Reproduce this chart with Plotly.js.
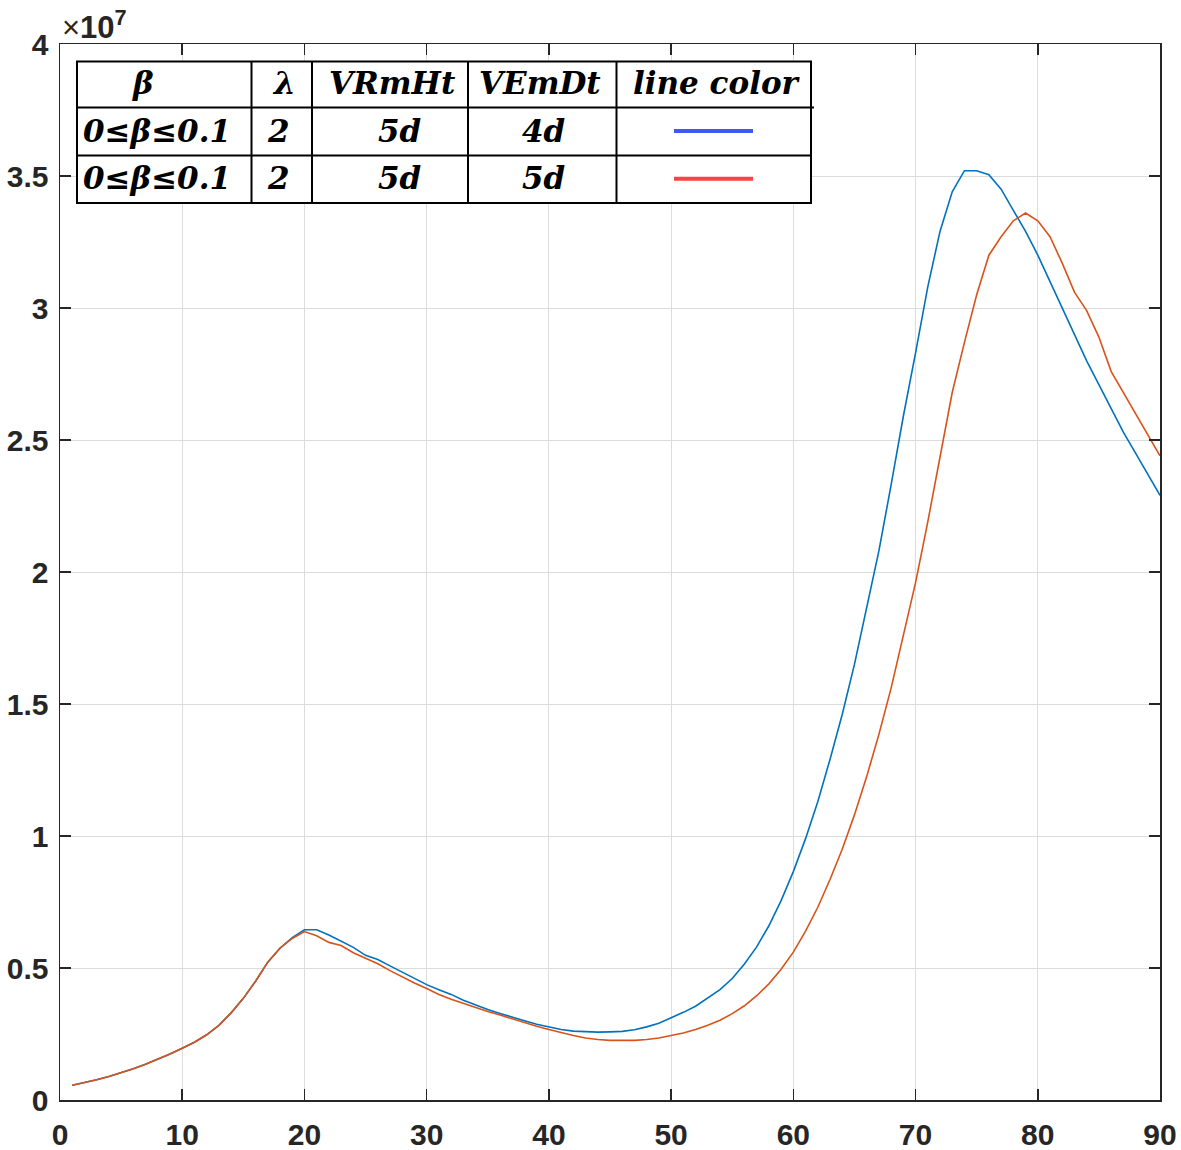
<!DOCTYPE html>
<html>
<head>
<meta charset="utf-8">
<script src="https://cdn.plot.ly/plotly-3.0.1.min.js"></script>
<style>html,body{margin:0;padding:0;background:#fff;}#chart{width:1181px;height:1150px;}</style>
</head>
<body>
<div id="chart"></div>
<script>
// ---- data (values in units of 1e7) ----
const xValues = [1,2,3,4,5,6,7,8,9,10,11,12,13,14,15,16,17,18,19,20,21,22,23,24,25,26,27,28,29,30,31,32,33,34,35,36,37,38,39,40,41,42,43,44,45,46,47,48,49,50,51,52,53,54,55,56,57,58,59,60,61,62,63,64,65,66,67,68,69,70,71,72,73,74,75,76,77,78,79,80,81,82,83,84,85,86,87,88,89,90];
const blueSeries = [0.056,0.066,0.077,0.089,0.103,0.118,0.135,0.154,0.174,0.196,
  0.219,0.247,0.283,0.330,0.385,0.450,0.522,0.575,0.615,0.645,
  0.645,0.625,0.600,0.578,0.548,0.532,0.508,0.485,0.460,0.437,
  0.418,0.400,0.378,0.360,0.343,0.328,0.313,0.300,0.287,0.277,
  0.267,0.261,0.258,0.257,0.258,0.260,0.266,0.277,0.291,0.311,
  0.332,0.355,0.385,0.418,0.460,0.515,0.580,0.660,0.755,0.865,
  0.990,1.130,1.290,1.460,1.650,1.860,2.080,2.330,2.590,2.830,
  3.080,3.290,3.440,3.520,3.520,3.505,3.450,3.370,3.290,3.200,
  3.100,3.000,2.900,2.800,2.710,2.620,2.530,2.450,2.370,2.290];
const redSeries = [0.056,0.066,0.077,0.089,0.103,0.118,0.135,0.154,0.174,0.196,
  0.219,0.247,0.283,0.330,0.385,0.450,0.522,0.575,0.612,0.638,
  0.622,0.597,0.585,0.558,0.537,0.516,0.490,0.465,0.443,0.422,
  0.400,0.382,0.366,0.350,0.335,0.322,0.307,0.294,0.279,0.267,
  0.255,0.244,0.235,0.229,0.226,0.225,0.226,0.229,0.235,0.244,
  0.254,0.267,0.283,0.302,0.327,0.357,0.395,0.440,0.495,0.560,
  0.640,0.730,0.835,0.950,1.080,1.225,1.385,1.560,1.755,1.960,
  2.190,2.440,2.680,2.870,3.050,3.200,3.270,3.330,3.360,3.330,
  3.270,3.170,3.060,2.990,2.890,2.760,2.680,2.600,2.520,2.440];
const exponentLabel = '×<b>10<sup>7</sup></b>';
const tableHeader = ['β','λ','VRmHt','VEmDt','line color'];
const tableRows = [['0≤β≤0.1','2','5d','4d'],['0≤β≤0.1','2','5d','5d']];
const legendLineColors = ['#3b5cf0','#ff4242'];

// ---- layout helpers (pixel -> paper) ----
const L = 60, T = 44, W = 1100, H = 1056;
const px = p => (p - L) / W;
const py = p => (T + H - p) / H;

const axisColor = '#262626';
const tickFont = {family: 'Liberation Sans, Arial, sans-serif', size: 30, color: axisColor, weight: 'bold'};

const traces = [
  {x: xValues, y: blueSeries, type: 'scatter', mode: 'lines', line: {color: '#0072BD', width: 1.6}, hoverinfo: 'skip'},
  {x: xValues, y: redSeries, type: 'scatter', mode: 'lines', line: {color: '#D95319', width: 1.6}, hoverinfo: 'skip'}
];

// table geometry (pixels)
const colEdges = [77, 251.5, 312, 468, 616.5, 811];
const rowEdges = [61.5, 107.5, 155.5, 203];
const headerCenters = [143, 284, 392, 540, 717];
const rowCenters = [157, 278, 399, 543];
const shapes = [];
shapes.push({type: 'rect', xref: 'paper', yref: 'paper', x0: px(colEdges[0]), x1: px(colEdges[5]), y0: py(rowEdges[0]), y1: py(rowEdges[3]),
  line: {color: '#000', width: 2}, fillcolor: '#fff', layer: 'above'});
for (let i = 1; i < colEdges.length - 1; i++) {
  shapes.push({type: 'line', xref: 'paper', yref: 'paper', x0: px(colEdges[i]), x1: px(colEdges[i]), y0: py(rowEdges[0]), y1: py(rowEdges[3]), line: {color: '#000', width: 2}, layer: 'above'});
}
for (let j = 1; j < rowEdges.length - 1; j++) {
  shapes.push({type: 'line', xref: 'paper', yref: 'paper', x0: px(colEdges[0]), x1: px(j === 1 ? 814 : colEdges[5]), y0: py(rowEdges[j]), y1: py(rowEdges[j]), line: {color: '#000', width: 2}, layer: 'above'});
}
legendLineColors.forEach((c, k) => {
  const yc = (rowEdges[k + 1] + rowEdges[k + 2]) / 2 - 0.5;
  shapes.push({type: 'line', xref: 'paper', yref: 'paper', x0: px(674), x1: px(753), y0: py(yc), y1: py(yc), line: {color: c, width: 4}, layer: 'above'});
});

const tableFont = {family: 'DejaVu Serif, serif', size: 31, color: '#000', weight: 'bold', style: 'italic'};
const annotations = [];
tableHeader.forEach((t, i) => {
  annotations.push({text: t, xref: 'paper', yref: 'paper', x: px(headerCenters[i]), y: py((rowEdges[0] + rowEdges[1]) / 2 - 1), xanchor: 'center', yanchor: 'middle', showarrow: false, font: tableFont});
});
tableRows.forEach((row, r) => {
  row.forEach((t, i) => {
    annotations.push({text: t, xref: 'paper', yref: 'paper', x: px(rowCenters[i]), y: py((rowEdges[r + 1] + rowEdges[r + 2]) / 2 - 1), xanchor: 'center', yanchor: 'middle', showarrow: false, font: tableFont});
  });
});
annotations.push({text: exponentLabel, xref: 'paper', yref: 'paper', x: px(61), y: py(46), xanchor: 'left', yanchor: 'bottom', showarrow: false, borderpad: 0,
  font: {family: 'Liberation Sans, Arial, sans-serif', size: 31, color: axisColor}});

const layout = {
  width: 1181, height: 1150,
  margin: {l: L, r: 1181 - L - W, t: T, b: 1150 - T - H, pad: 0},
  paper_bgcolor: '#fff', plot_bgcolor: '#fff',
  showlegend: false,
  xaxis: {range: [0, 90], tick0: 0, dtick: 10, showgrid: true, gridcolor: '#dcdcdc', gridwidth: 1,
    showline: true, linecolor: axisColor, linewidth: 1.5, mirror: 'ticks', ticks: 'inside', ticklen: 11, tickwidth: 1.5, tickcolor: axisColor,
    zeroline: false, tickfont: tickFont, ticklabelstandoff: 7, fixedrange: true},
  yaxis: {range: [0, 4], tick0: 0, dtick: 0.5, showgrid: true, gridcolor: '#dcdcdc', gridwidth: 1,
    showline: true, linecolor: axisColor, linewidth: 1.5, mirror: 'ticks', ticks: 'inside', ticklen: 11, tickwidth: 1.5, tickcolor: axisColor,
    zeroline: false, tickfont: tickFont, ticklabelstandoff: 4, fixedrange: true},
  shapes: shapes,
  annotations: annotations
};

Plotly.newPlot('chart', traces, layout, {displayModeBar: false, staticPlot: true});
</script>
</body>
</html>
